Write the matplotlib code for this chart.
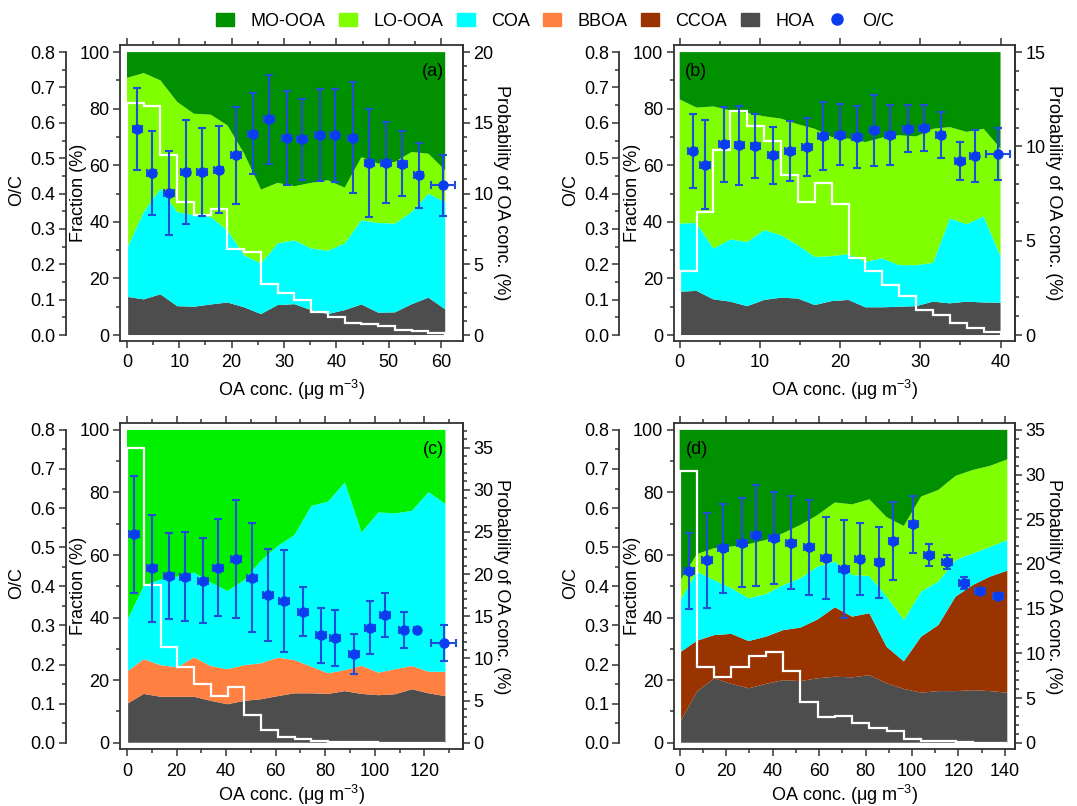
import numpy as np
import matplotlib
matplotlib.use('Agg')
import matplotlib.pyplot as plt
from matplotlib.patches import Patch
from matplotlib.lines import Line2D
from matplotlib.ticker import MultipleLocator

plt.rcParams['font.family'] = ['Liberation Sans', 'DejaVu Sans']
plt.rcParams['mathtext.fontset'] = 'custom'
plt.rcParams['mathtext.rm'] = 'Liberation Sans'
plt.rcParams['mathtext.default'] = 'regular'

# colours
colors = {'MO-OOA': '#009000', 'LO-OOA': '#80ff00', 'OOA': '#00f000', 'COA': '#00ffff',
          'BBOA': '#ff8040', 'CCOA': '#993300', 'HOA': '#4d4d4d'}
oc_color = '#0a3cf0'
err_color = '#1f4ed8'

# ---- panel (a) ----
a_edges = np.linspace(0, 60.8, 20)
a_hoa = [13.5, 12.6, 14.4, 10.2, 10.0, 10.8, 11.5, 9.8, 7.4, 10.6, 10.9, 8.8, 7.4, 8.8, 10.8, 7.9, 8.0, 10.9, 13.2, 9.1]
a_coa = [17.1, 30.9, 37.4, 33.3, 32.4, 31.0, 25.5, 18.4, 17.9, 21.8, 22.6, 21.8, 22.4, 23.6, 29.8, 31.7, 31.4, 32.6, 36.8, 37.9]
a_lo = [60.3, 49.1, 38.2, 38.9, 35.8, 36.1, 37.1, 35.9, 26.1, 21.4, 19.1, 23.2, 24.9, 19.7, 22.3, 21.0, 21.8, 21.2, 14.1, 11.2]
a_mo = [9.1, 7.4, 10.0, 17.6, 21.8, 22.1, 25.9, 35.9, 48.6, 46.2, 47.4, 46.2, 45.3, 47.9, 37.1, 39.4, 38.8, 35.3, 35.9, 41.8]
a_prob = [16.4, 16.2, 12.7, 9.4, 8.5, 8.9, 6.1, 5.9, 3.6, 3.0, 2.5, 1.6, 1.3, 0.87, 0.78, 0.64, 0.35, 0.28, 0.12]
a_ocx = [2.0, 4.7, 8.0, 11.2, 14.3, 17.5, 20.8, 24.0, 27.1, 30.5, 33.4, 36.8, 39.7, 43.1, 46.3, 49.5, 52.6, 55.7, 60.4]
a_oc = [0.582, 0.458, 0.402, 0.461, 0.461, 0.468, 0.508, 0.569, 0.610, 0.557, 0.553, 0.565, 0.565, 0.558, 0.487, 0.487, 0.485, 0.452, 0.423]
a_ocsd = [0.116, 0.120, 0.119, 0.146, 0.125, 0.122, 0.137, 0.115, 0.126, 0.132, 0.115, 0.130, 0.131, 0.157, 0.152, 0.114, 0.092, 0.092, 0.086]
a_xsd = [0.9] * 18 + [2.3]

# ---- panel (b) ----
b_edges = np.linspace(0, 40, 20)
b_hoa = [15.3, 15.6, 12.6, 11.8, 10.2, 12.4, 13.2, 12.9, 10.6, 12.0, 12.4, 9.8, 9.8, 10.0, 10.2, 11.8, 11.2, 11.8, 11.5, 11.4]
b_coa = [24.1, 24.0, 18.0, 22.0, 22.7, 24.7, 22.1, 18.9, 17.0, 15.9, 16.2, 16.1, 17.3, 14.7, 14.5, 13.7, 30.0, 27.4, 30.5, 16.5]
b_lo = [43.9, 40.8, 50.2, 45.6, 45.6, 40.2, 41.2, 42.7, 45.3, 42.1, 40.8, 42.3, 42.7, 45.9, 45.5, 47.4, 32.3, 32.6, 30.9, 38.0]
b_mo = [16.7, 19.6, 19.2, 20.6, 21.5, 22.7, 23.5, 25.5, 27.1, 30.0, 30.6, 31.8, 30.2, 29.4, 29.8, 27.1, 26.5, 28.2, 27.1, 34.1]
b_prob = [3.40, 6.51, 9.82, 11.9, 11.06, 10.3, 8.47, 7.05, 8.06, 6.97, 4.09, 3.40, 2.65, 2.06, 1.32, 1.06, 0.62, 0.35, 0.14]
b_ocx = [1.62, 3.12, 5.49, 7.44, 9.44, 11.64, 13.72, 15.88, 17.88, 19.96, 22.12, 24.28, 26.2, 28.48, 30.44, 32.52, 34.93, 36.76, 39.71]
b_oc = [0.520, 0.482, 0.539, 0.536, 0.534, 0.508, 0.520, 0.532, 0.562, 0.567, 0.560, 0.579, 0.565, 0.584, 0.585, 0.565, 0.492, 0.506, 0.511]
b_ocsd = [0.104, 0.127, 0.105, 0.111, 0.090, 0.080, 0.084, 0.081, 0.096, 0.087, 0.087, 0.100, 0.085, 0.066, 0.065, 0.065, 0.054, 0.073, 0.074]
b_xsd = [0.6] * 18 + [1.5]

# ---- panel (c) ----
c_edges = np.linspace(0, 128.5, 20)
c_hoa = [12.4, 15.6, 14.7, 14.7, 14.7, 13.4, 12.3, 13.4, 13.9, 14.9, 15.8, 15.8, 15.6, 16.5, 15.6, 15.2, 15.5, 17.1, 15.8, 14.9]
c_bboa = [10.3, 11.1, 10.1, 9.4, 12.6, 11.1, 11.2, 11.4, 11.5, 12.3, 10.6, 8.5, 6.6, 6.7, 9.0, 7.2, 8.0, 7.4, 6.9, 7.8]
c_coa = [16.3, 23.4, 27.4, 29.0, 27.1, 26.7, 25.0, 27.2, 32.8, 35.7, 40.0, 51.4, 54.9, 60.0, 42.6, 51.2, 49.8, 49.6, 57.4, 53.6]
c_ooa = [61.0, 49.9, 47.8, 46.9, 45.6, 48.8, 51.5, 48.0, 41.8, 37.1, 33.6, 24.3, 22.9, 16.8, 32.8, 26.4, 26.7, 25.9, 19.9, 23.7]
c_prob = [35.0, 18.7, 11.3, 8.94, 6.96, 5.58, 6.56, 3.28, 1.50, 0.63, 0.40, 0.24, 0.12, 0.08, 0.03, 0.02, 0.02, 0.01, 0.01]
c_ocx = [2.96, 10.2, 17.0, 23.4, 30.7, 36.9, 43.9, 50.6, 56.8, 63.4, 71.0, 78.2, 83.8, 91.7, 97.9, 104.2, 111.6, 117.0, 127.8]
c_oc = [0.533, 0.446, 0.426, 0.425, 0.414, 0.448, 0.470, 0.422, 0.378, 0.362, 0.335, 0.275, 0.267, 0.227, 0.294, 0.327, 0.288, 0.288, 0.254]
c_ocsd = [0.149, 0.136, 0.110, 0.114, 0.109, 0.123, 0.151, 0.139, 0.118, 0.130, 0.062, 0.070, 0.072, 0.051, 0.068, 0.057, 0.047, 0.004, 0.046]
c_xsd = [2.0] * 17 + [1.0, 5.1]

# ---- panel (d) ----
d_edges = np.linspace(0, 141.0, 20)
d_hoa = [6.4, 16.3, 20.6, 18.8, 17.4, 18.8, 20.0, 19.7, 20.6, 21.1, 20.9, 21.6, 19.0, 17.2, 16.0, 16.5, 16.5, 16.8, 16.5, 16.0]
d_ccoa = [22.4, 16.3, 13.8, 16.0, 15.1, 15.1, 16.0, 17.1, 18.8, 22.2, 19.4, 19.8, 11.7, 8.8, 17.9, 21.1, 30.2, 33.6, 36.6, 39.0]
d_coa = [16.3, 22.1, 17.6, 14.6, 13.7, 13.6, 14.4, 15.8, 16.9, 14.6, 13.3, 11.9, 16.1, 13.3, 14.4, 13.9, 11.7, 10.1, 9.5, 9.8]
d_lo = [6.4, 5.6, 10.2, 13.3, 17.3, 17.3, 16.6, 17.0, 16.5, 18.9, 22.6, 24.5, 25.3, 30.0, 30.4, 29.3, 26.9, 26.7, 25.9, 25.8]
d_mo = [48.5, 39.7, 37.8, 37.3, 36.5, 35.2, 33.0, 30.4, 27.2, 23.2, 23.8, 22.2, 27.9, 30.7, 21.3, 19.2, 14.7, 12.8, 11.5, 9.4]
d_prob = [30.4, 8.51, 7.39, 8.51, 9.70, 10.11, 8.06, 4.59, 2.91, 3.02, 2.16, 1.60, 1.31, 0.37, 0.22, 0.19, 0.07, 0.02, 0.01]
d_ocx = [3.87, 11.75, 18.5, 26.8, 32.8, 40.7, 48.0, 55.7, 63.0, 70.8, 77.4, 86.0, 92.0, 100.6, 107.3, 114.9, 122.5, 129.2, 137.1]
d_oc = [0.440, 0.466, 0.497, 0.512, 0.531, 0.523, 0.512, 0.500, 0.473, 0.444, 0.469, 0.461, 0.516, 0.559, 0.480, 0.461, 0.409, 0.388, 0.375]
d_ocsd = [0.097, 0.122, 0.113, 0.115, 0.129, 0.117, 0.120, 0.121, 0.105, 0.125, 0.092, 0.091, 0.099, 0.073, 0.027, 0.018, 0.016, 0.005, 0.004]
d_xsd = [2.1] * 19

fig = plt.figure(figsize=(10.77, 8.06), dpi=100)
spine_c = '#333333'
fs = 13


def style(axis):
    axis.tick_params(direction='out', length=5, width=1.1, colors=spine_c, labelcolor='black',
                     labelsize=fs, pad=2.5)
    axis.tick_params(which='minor', direction='out', length=3, width=1.1, colors=spine_c)


def panel(rect, edges, layers, names, prob, pscale, ocx, oc, ocsd, xsd,
          xlim, ylim, xstep, label, lab_xy, lab_ha, xlpad):
    ax = fig.add_axes(rect)
    ax.stackplot(edges, *layers, colors=[colors[n] for n in names], linewidth=0)
    ax.set_xlim(*xlim)
    ax.set_ylim(*ylim)
    ax.xaxis.set_major_locator(MultipleLocator(xstep))
    ax.xaxis.set_minor_locator(MultipleLocator(xstep / 2))
    ax.set_yticks([0, 20, 40, 60, 80, 100])
    ax.yaxis.set_minor_locator(MultipleLocator(10))
    ax.tick_params(which='both', top=True)
    style(ax)
    ax.tick_params(axis='x', pad=4.5)
    for s in ax.spines.values():
        s.set_color(spine_c)
        s.set_linewidth(1.3)
    ax.set_xlabel(r'OA conc. ($\mu$g m$^{-3}$)', fontsize=fs, labelpad=xlpad)
    ax.set_ylabel('Fraction (%)', fontsize=fs)
    ax.yaxis.set_label_coords(-0.096, 0.5)
    ax.text(lab_xy[0], lab_xy[1], label, transform=ax.transAxes, fontsize=fs,
            ha=lab_ha, va='top')

    # probability axis (right)
    axr = ax.twinx()
    axr.stairs(prob, edges, baseline=0, color='white', linewidth=1.6)
    axr.set_ylim(ylim[0] * pscale, ylim[1] * pscale)
    axr.yaxis.set_major_locator(MultipleLocator(5))
    axr.yaxis.set_minor_locator(MultipleLocator(1))
    style(axr)
    for k, s in axr.spines.items():
        s.set_visible(k == 'right')
        s.set_color(spine_c)
        s.set_linewidth(1.3)
    axr.set_ylabel('Probability of OA conc. (%)', fontsize=fs, rotation=270, va='bottom')
    axr.yaxis.set_label_coords(1.088, 0.5)

    # O/C axis (outer left)
    axo = ax.twinx()
    axo.set_ylim(ylim[0] / 125, ylim[1] / 125)
    axo.yaxis.tick_left()
    axo.yaxis.set_label_position('left')
    for k, s in axo.spines.items():
        s.set_visible(k == 'left')
    axo.spines['left'].set_position(('outward', 39))
    axo.spines['left'].set_bounds(0, 0.8)
    axo.spines['left'].set_color(spine_c)
    axo.spines['left'].set_linewidth(1.3)
    axo.set_yticks(np.arange(0, 0.81, 0.1))
    axo.yaxis.set_minor_locator(MultipleLocator(0.05))
    axo.yaxis.set_major_formatter(matplotlib.ticker.FormatStrFormatter('%.1f'))
    style(axo)
    axo.set_ylabel('O/C', fontsize=fs)
    axo.yaxis.set_label_coords(-0.277, 0.51)
    axo.errorbar(ocx, oc, yerr=ocsd, xerr=xsd, fmt='o', color=oc_color, ecolor=err_color,
                 ms=6.5, elinewidth=1.5, capsize=3, capthick=1.5)
    return ax


panel([0.1114, 0.5769, 0.3185, 0.3672], a_edges, [a_hoa, a_coa, a_lo, a_mo],
      ['HOA', 'COA', 'LO-OOA', 'MO-OOA'], a_prob, 0.2, a_ocx, a_oc, a_ocsd, a_xsd,
      (-1.34, 64.2), (-2.12, 102.5), 10, '(a)', (0.945, 0.94), 'right', 5)
panel([0.6255, 0.5769, 0.3169, 0.3672], b_edges, [b_hoa, b_coa, b_lo, b_mo],
      ['HOA', 'COA', 'LO-OOA', 'MO-OOA'], b_prob, 0.15, b_ocx, b_oc, b_ocsd, b_xsd,
      (-0.75, 41.8), (-2.12, 102.5), 10, '(b)', (0.033, 0.94), 'left', 5)
panel([0.1114, 0.0703, 0.3185, 0.4045], c_edges, [c_hoa, c_bboa, c_coa, c_ooa],
      ['HOA', 'BBOA', 'COA', 'OOA'], c_prob, 0.371, c_ocx, c_oc, c_ocsd, c_xsd,
      (-2.83, 135.6), (-2.11, 102.1), 20, '(c)', (0.945, 0.945), 'right', 2.5)
panel([0.6255, 0.0703, 0.3169, 0.4045], d_edges, [d_hoa, d_ccoa, d_coa, d_lo, d_mo],
      ['HOA', 'CCOA', 'COA', 'LO-OOA', 'MO-OOA'], d_prob, 0.35, d_ocx, d_oc, d_ocsd, d_xsd,
      (-2.58, 144.3), (-2.11, 102.1), 20, '(d)', (0.036, 0.945), 'left', 2.5)

handles = [Patch(color=colors[n], label=n) for n in ['MO-OOA', 'LO-OOA', 'COA', 'BBOA', 'CCOA', 'HOA']]
handles.append(Line2D([], [], marker='o', ls='', color=oc_color, ms=8, label='O/C'))
fig.legend(handles=handles, loc='center', bbox_to_anchor=(555 / 1077, 1 - 21 / 806), ncol=7,
           frameon=False, fontsize=13, handlelength=1.0, handleheight=0.7,
           handletextpad=0.9, columnspacing=0.75)

fig.savefig('out.png', dpi=100)
